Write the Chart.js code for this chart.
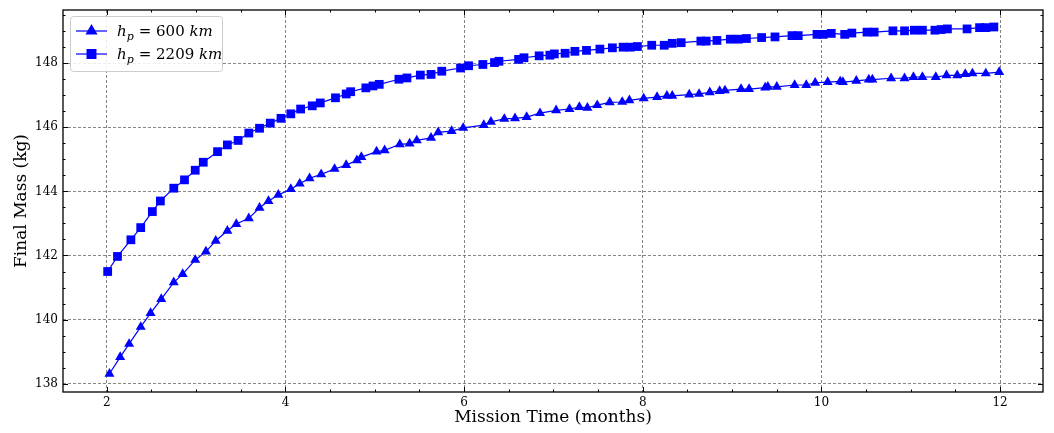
<!DOCTYPE html>
<html>
<head>
<meta charset="utf-8">
<script src="https://cdn.jsdelivr.net/npm/chart.js@4/dist/chart.umd.min.js"></script>
<style>
  html, body { margin: 0; padding: 0; background: #fff; }
  #wrap { width: 1054px; height: 433px; position: relative; }
</style>
</head>
<body>
<div id="wrap"><canvas id="massChart"></canvas></div>
<script>
// h_p = 600 km
const monthsLow = [2.03,2.15,2.25,2.38,2.49,2.61,2.75,2.85,2.99,3.11,3.22,3.35,3.45,3.59,3.71,3.81,3.92,4.06,4.16,4.27,4.40,4.55,4.68,4.80,4.85,5.02,5.11,5.28,5.39,5.47,5.63,5.71,5.86,5.99,6.22,6.30,6.45,6.57,6.70,6.85,7.03,7.18,7.29,7.38,7.49,7.63,7.77,7.85,8.01,8.16,8.27,8.33,8.52,8.63,8.75,8.86,8.92,9.10,9.19,9.37,9.40,9.50,9.70,9.83,9.93,10.07,10.21,10.24,10.39,10.53,10.57,10.78,10.93,11.03,11.13,11.28,11.40,11.52,11.61,11.69,11.84,11.99];
const massLow = [138.31,138.83,139.24,139.77,140.20,140.64,141.16,141.42,141.86,142.12,142.46,142.77,142.98,143.16,143.49,143.70,143.89,144.07,144.24,144.41,144.53,144.70,144.82,144.97,145.07,145.24,145.28,145.47,145.49,145.59,145.67,145.84,145.88,145.98,146.07,146.17,146.26,146.28,146.32,146.44,146.53,146.57,146.63,146.61,146.69,146.78,146.79,146.84,146.90,146.94,146.98,146.98,147.02,147.04,147.09,147.13,147.15,147.19,147.19,147.24,147.26,147.26,147.32,147.32,147.39,147.41,147.43,147.41,147.45,147.49,147.49,147.53,147.53,147.57,147.57,147.57,147.62,147.62,147.66,147.68,147.68,147.72];

// h_p = 2209 km
const monthsHigh = [2.01,2.12,2.27,2.38,2.51,2.60,2.75,2.87,2.99,3.08,3.24,3.35,3.47,3.59,3.71,3.83,3.95,4.06,4.17,4.30,4.39,4.56,4.68,4.73,4.90,4.98,5.05,5.27,5.36,5.51,5.63,5.75,5.96,6.05,6.21,6.34,6.39,6.61,6.67,6.84,6.96,7.01,7.13,7.24,7.37,7.52,7.66,7.78,7.86,7.94,8.10,8.24,8.33,8.43,8.65,8.71,8.83,8.98,9.07,9.16,9.33,9.48,9.67,9.74,9.95,10.02,10.11,10.26,10.34,10.51,10.59,10.80,10.93,11.04,11.13,11.27,11.34,11.41,11.63,11.77,11.84,11.93];
const massHigh = [141.50,141.97,142.49,142.87,143.37,143.70,144.10,144.36,144.66,144.91,145.24,145.45,145.59,145.82,145.97,146.13,146.28,146.42,146.57,146.67,146.76,146.92,147.04,147.11,147.23,147.29,147.34,147.50,147.54,147.63,147.65,147.75,147.85,147.92,147.96,148.02,148.06,148.12,148.17,148.23,148.25,148.29,148.31,148.37,148.40,148.44,148.48,148.50,148.50,148.52,148.56,148.56,148.62,148.64,148.69,148.69,148.71,148.75,148.75,148.77,148.80,148.82,148.86,148.86,148.90,148.90,148.93,148.90,148.94,148.97,148.97,149.01,149.01,149.03,149.03,149.03,149.05,149.07,149.07,149.11,149.11,149.13];

const xTicks = [2, 4, 6, 8, 10, 12];
const yTicks = [138, 140, 142, 144, 146, 148];
const seriesAltitudes = ["600", "2209"];

const BLUE = "#0000ff";
const SERIF = "'DejaVu Serif', serif";

function toPoints(xs, ys) {
  return xs.map((x, i) => ({ x, y: ys[i] }));
}

function fixedTicks(values) {
  return scale => { scale.ticks = values.map(v => ({ value: v })); };
}

// inward major/minor ticks on all four sides plus the black frame
const frameTicks = {
  id: "frameTicks",
  afterDatasetsDraw(chart) {
    const { ctx, chartArea: a, scales } = chart;
    const xs = scales.x, ys = scales.y;
    ctx.save();
    ctx.strokeStyle = "#000";
    ctx.lineWidth = 1;
    ctx.beginPath();
    const tick = (len, vx, vy) => {
      if (vx !== null) {
        const px = Math.round(xs.getPixelForValue(vx)) + 0.5;
        if (px < a.left || px > a.right) return;
        ctx.moveTo(px, a.bottom); ctx.lineTo(px, a.bottom - len);
        ctx.moveTo(px, a.top); ctx.lineTo(px, a.top + len);
      } else {
        const py = Math.round(ys.getPixelForValue(vy)) + 0.5;
        if (py < a.top || py > a.bottom) return;
        ctx.moveTo(a.left, py); ctx.lineTo(a.left + len, py);
        ctx.moveTo(a.right, py); ctx.lineTo(a.right - len, py);
      }
    };
    for (let v = 1.5; v <= 12.5; v += 0.5) tick(v % 2 === 0 ? 5 : 2.5, v, null);
    for (let v = 137.5; v <= 150; v += 0.5) tick(v % 2 === 0 ? 5 : 2.5, null, v);
    ctx.stroke();
    ctx.lineWidth = 1.3;
    ctx.strokeRect(a.left, a.top, a.right - a.left, a.bottom - a.top);
    ctx.restore();
  },
  afterDraw(chart) {
    const { ctx, chartArea: a } = chart;
    ctx.save();
    ctx.fillStyle = "#000";
    ctx.font = "17px " + SERIF;
    ctx.textAlign = "center";
    ctx.textBaseline = "middle";
    ctx.fillText("Mission Time (months)", (a.left + a.right) / 2, 418);
    ctx.translate(22, (a.top + a.bottom) / 2);
    ctx.rotate(-Math.PI / 2);
    ctx.fillText("Final Mass (kg)", 0, 0);
    ctx.restore();

    // legend box
    ctx.save();
    const bx = 70, by = 16, bw = 152, bh = 55;
    ctx.fillStyle = "rgba(255,255,255,0.85)";
    ctx.strokeStyle = "#cccccc";
    ctx.lineWidth = 1;
    ctx.beginPath();
    ctx.roundRect(bx + 0.5, by + 0.5, bw, bh, 3);
    ctx.fill();
    ctx.stroke();
    chart.data.datasets.forEach((ds, i) => {
      const cy = 31 + i * 23;
      ctx.strokeStyle = BLUE;
      ctx.lineWidth = 1.2;
      ctx.beginPath();
      ctx.moveTo(76, cy); ctx.lineTo(107, cy);
      ctx.stroke();
      Chart.helpers.drawPoint(ctx, {
        pointStyle: ds.pointStyle, radius: ds.pointRadius, borderWidth: 1
      }, 91.5, cy);
      ctx.fillStyle = BLUE;
      ctx.fill();
      // label: h_p = NNN km
      ctx.fillStyle = "#000";
      ctx.textBaseline = "alphabetic";
      ctx.textAlign = "left";
      let x = 117;
      const base = cy + 5;
      ctx.font = "italic 15px " + SERIF;
      ctx.fillText("h", x, base); x += ctx.measureText("h").width;
      ctx.font = "italic 11px " + SERIF;
      ctx.fillText("p", x, base + 4); x += ctx.measureText("p").width + 5;
      ctx.font = "15px " + SERIF;
      const mid = "= " + seriesAltitudes[i] + " ";
      ctx.fillText(mid, x, base); x += ctx.measureText(mid).width;
      ctx.font = "italic 15px " + SERIF;
      ctx.fillText("km", x, base);
    });
    ctx.restore();
  }
};

function renderMassChart() {
  const ctx = document.getElementById("massChart").getContext("2d");
  new Chart(ctx, {
    type: "line",
    data: {
      datasets: [
        {
          label: "h_p = 600 km",
          data: toPoints(monthsLow, massLow),
          borderColor: BLUE,
          backgroundColor: BLUE,
          borderWidth: 1.2,
          pointStyle: "triangle",
          pointRadius: 5.8,
          pointBorderWidth: 0,
          tension: 0,
        },
        {
          label: "h_p = 2209 km",
          data: toPoints(monthsHigh, massHigh),
          borderColor: BLUE,
          backgroundColor: BLUE,
          borderWidth: 1.2,
          pointStyle: "rect",
          pointRadius: 6.2,
          pointBorderWidth: 0,
          tension: 0,
        }
      ]
    },
    plugins: [frameTicks],
    options: {
      responsive: true,
      maintainAspectRatio: false,
      animation: false,
      layout: { padding: { left: 0, right: 11, top: 10, bottom: 0 } },
      plugins: { legend: { display: false }, tooltip: { enabled: false } },
      scales: {
        x: {
          type: "linear",
          min: 1.51,
          max: 12.48,
          afterBuildTicks: fixedTicks(xTicks),
          afterFit: s => { s.height = 41; s.paddingLeft = 0; s.paddingRight = 0; },
          grid: { color: "#666", lineWidth: 0.8, drawTicks: false },
          border: { display: false, dash: [3, 2] },
          ticks: { color: "#000", padding: 4, font: { family: SERIF, size: 12 }, callback: v => v }
        },
        y: {
          type: "linear",
          min: 137.74,
          max: 149.66,
          afterBuildTicks: fixedTicks(yTicks),
          afterFit: s => { s.width = 63; s.paddingTop = 0; s.paddingBottom = 0; },
          grid: { color: "#666", lineWidth: 0.8, drawTicks: false },
          border: { display: false, dash: [3, 2] },
          ticks: { color: "#000", padding: 5, font: { family: SERIF, size: 12 }, callback: v => v }
        }
      }
    }
  });
}

document.addEventListener("DOMContentLoaded", renderMassChart);
</script>
</body>
</html>
